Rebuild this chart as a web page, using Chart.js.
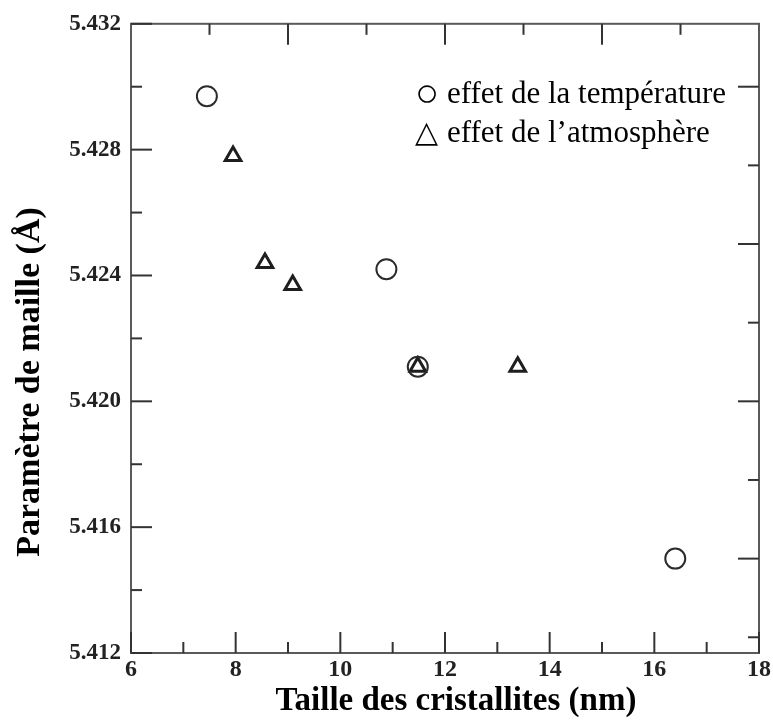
<!DOCTYPE html>
<html><head><meta charset="utf-8">
<style>html,body{margin:0;padding:0;background:#fff;}</style>
<script src="https://cdn.jsdelivr.net/npm/chart.js@4.4.1/dist/chart.umd.min.js"></script>
</head><body>
<canvas id="c" width="773" height="724"></canvas>
<script>
// ---- data ----
const seriesLabels = ['effet de la température', 'effet de l\u2019atmosphère'];
const seriesSymbols = ['\u25CB', '\u25B3'];
const tempX = [7.45, 10.88, 11.48, 16.40];
const tempY = [5.4297, 5.4242, 5.4211, 5.4150];
const atmX = [7.95, 8.56, 9.09, 11.48, 13.39];
const atmY = [5.4278, 5.4244, 5.4237, 5.4211, 5.4211];
const xTicks = [6, 8, 10, 12, 14, 16, 18];
const xTickLabels = ['6', '8', '10', '12', '14', '16', '18'];
const xMinorTicks = [7, 9, 11, 13, 15, 17];
const yTicks = [5.412, 5.416, 5.420, 5.424, 5.428, 5.432];
const yTickLabels = ['5.412', '5.416', '5.420', '5.424', '5.428', '5.432'];
const yMinorTicks = [5.414, 5.418, 5.422, 5.426, 5.430];
const topMajorTicks = [9, 12, 15];
const topMinorTicks = [7.5, 10.5, 13.5, 16.5];
const rightMajorTicks = [5.415, 5.420, 5.425, 5.430];
const rightMinorTicks = [5.4125, 5.4175, 5.4225, 5.4275];
const xTitle = 'Taille des cristallites (nm)';
const yTitle = 'Paramètre de maille (Å)';

const SERIF = '"Liberation Serif", "Times New Roman", serif';

const framePlugin = {
  id: 'frame',
  beforeDatasetsDraw(chart) {
    const {ctx, chartArea: a, scales: {x, y}} = chart;
    ctx.save();
    ctx.strokeStyle = '#5a5a5a';
    ctx.lineWidth = 2;
    ctx.strokeRect(a.left, a.top, a.right - a.left, a.bottom - a.top);
    ctx.strokeStyle = '#333';
    const L = 21, S = 11;
    const seg = (x1, y1, x2, y2) => { ctx.beginPath(); ctx.moveTo(x1, y1); ctx.lineTo(x2, y2); ctx.stroke(); };
    xTicks.forEach(v => { const p = x.getPixelForValue(v); seg(p, a.bottom, p, a.bottom - L); });
    xMinorTicks.forEach(v => { const p = x.getPixelForValue(v); seg(p, a.bottom, p, a.bottom - S); });
    yTicks.forEach(v => { const p = y.getPixelForValue(v); seg(a.left, p, a.left + L, p); });
    yMinorTicks.forEach(v => { const p = y.getPixelForValue(v); seg(a.left, p, a.left + S, p); });
    topMajorTicks.forEach(v => { const p = x.getPixelForValue(v); seg(p, a.top, p, a.top + L); });
    topMinorTicks.forEach(v => { const p = x.getPixelForValue(v); seg(p, a.top, p, a.top + S); });
    rightMajorTicks.forEach(v => { const p = y.getPixelForValue(v); seg(a.right, p, a.right - L, p); });
    rightMinorTicks.forEach(v => { const p = y.getPixelForValue(v); seg(a.right, p, a.right - S, p); });
    ctx.restore();
  }
};

const textPlugin = {
  id: 'texts',
  afterDraw(chart) {
    const {ctx} = chart;
    ctx.save();
    ctx.fillStyle = '#000';
    // legend
    ctx.textBaseline = 'alphabetic';
    ctx.textAlign = 'left';
    const rows = [103, 142];
    const symbolSizes = [40, 30];
    const symbolY = [106, 142];
    seriesLabels.forEach((lab, i) => {
      ctx.font = symbolSizes[i] + 'px ' + SERIF;
      ctx.fillText(seriesSymbols[i], 415, symbolY[i]);
      ctx.font = '31px ' + SERIF;
      ctx.fillText(lab, 447, rows[i]);
    });
    // axis titles
    ctx.textAlign = 'center';
    ctx.textBaseline = 'middle';
    ctx.font = 'bold 33px ' + SERIF;
    ctx.fillText(xTitle, 456, 701);
    ctx.translate(30, 382);
    ctx.rotate(-Math.PI / 2);
    ctx.font = 'bold 34px ' + SERIF;
    ctx.fillText(yTitle, 0, 0);
    ctx.restore();
  }
};

new Chart(document.getElementById('c'), {
  type: 'scatter',
  data: {
    datasets: [
      {
        label: seriesLabels[0],
        data: tempX.map((v, i) => ({x: v, y: tempY[i]})),
        pointStyle: 'circle', pointRadius: 10, borderWidth: 2,
        borderColor: '#2b2b2b', backgroundColor: 'rgba(0,0,0,0)'
      },
      {
        label: seriesLabels[1],
        data: atmX.map((v, i) => ({x: v, y: atmY[i]})),
        pointStyle: 'triangle', pointRadius: 9, borderWidth: 3,
        borderColor: '#1e1e1e', backgroundColor: 'rgba(0,0,0,0)'
      }
    ]
  },
  options: {
    responsive: false,
    animation: false,
    layout: {padding: {top: 22, right: 13, left: 0, bottom: 0}},
    plugins: {legend: {display: false}, tooltip: {enabled: false}},
    scales: {
      x: {
        type: 'linear', min: 6, max: 18,
        afterBuildTicks: s => { s.ticks = xTicks.map(v => ({value: v})); },
        afterFit: s => { s.height = 71; },
        grid: {display: false, drawTicks: false},
        border: {display: false},
        ticks: {
          autoSkip: false, maxRotation: 0, padding: 2, color: '#222',
          font: {family: SERIF, weight: 'bold', size: 24},
          callback: (v, i) => xTickLabels[i]
        },
        title: {display: false}
      },
      y: {
        type: 'linear', min: 5.412, max: 5.432,
        afterBuildTicks: s => { s.ticks = yTicks.map(v => ({value: v})); },
        afterFit: s => { s.width = 131; },
        grid: {display: false, drawTicks: false},
        border: {display: false},
        ticks: {
          autoSkip: false, padding: 10, color: '#222',
          font: {family: SERIF, weight: 'bold', size: 23},
          callback: (v, i) => yTickLabels[i]
        },
        title: {display: false}
      }
    }
  },
  plugins: [framePlugin, textPlugin]
});
</script>
</body></html>
